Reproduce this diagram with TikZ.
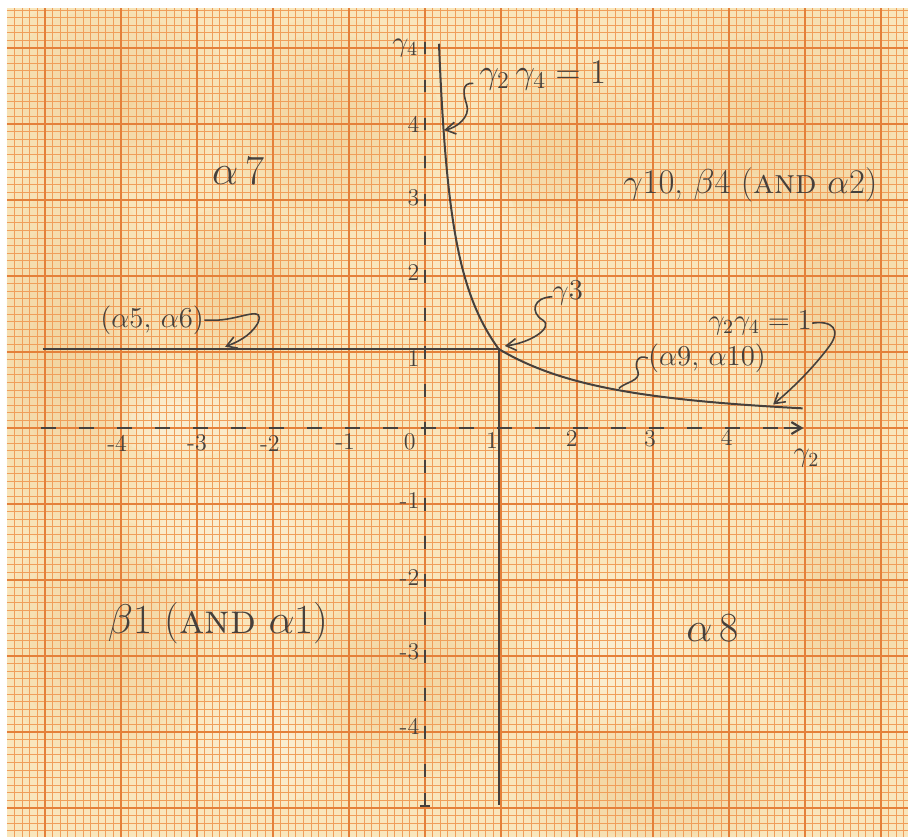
\documentclass[tikz,border=0pt]{standalone}
\usetikzlibrary{arrows.meta}
\definecolor{paper}{RGB}{249,230,188}
\definecolor{stain}{RGB}{234,192,122}
\definecolor{pale}{RGB}{254,247,230}
\definecolor{gridminor}{RGB}{240,158,90}
\definecolor{gridmajor}{RGB}{228,128,58}
\definecolor{ink}{RGB}{70,64,60}
\begin{document}
\begin{tikzpicture}[x=38pt,y=38pt,
  lbl/.style={text=ink, inner sep=0pt},
  ticklbl/.style={text=ink, inner sep=0pt, font=\large},
  axisdash/.style={draw=ink, line width=1.1pt},
  inkline/.style={draw=ink, line width=1pt},
  leader/.style={draw=ink, line width=0.8pt},
  barb/.style={-{Straight Barb[length=5pt,width=6pt]}}]
\useasboundingbox (-5.592,-5.382) rectangle (6.355,5.632);
\fill[white] (-5.592,-5.382) rectangle (6.355,5.632);
\fill[paper] (-5.5,-5.382) rectangle (6.355,5.526);
% stains and pale patches on the paper
\begin{scope}
\clip (-5.5,-5.382) rectangle (6.355,5.526);
\foreach \cx/\cy/\rx/\ry in {-4.2/4.4/1.6/1.3, -4.7/1.0/1.2/2.6, -4.2/-2.8/1.4/1.6,
  -1.3/4.0/1.5/1.4, 4.6/4.0/2.2/1.7, 5.4/1.6/1.3/1.8, -0.3/-3.3/1.6/1.3,
  5.5/-2.3/1.1/1.7, -2.5/1.8/1.3/1.1, 3.0/-4.7/1.8/1.0, 1.8/3.7/1.2/1.1}{
  \foreach \s in {1,0.85,0.7,0.55,0.4,0.25}{
    \fill[stain, opacity=0.07] (\cx,\cy) ellipse ({\s*\rx} and {\s*\ry});
  }
}
\foreach \cx/\cy/\rx/\ry in {1.2/-0.9/1.0/0.8, 2.4/-2.9/1.1/1.1, -2.6/-1.4/1.2/0.7,
  -2.2/-4.2/1.0/0.8, -3.2/0.1/0.9/0.5, 0.6/2.6/0.6/0.9}{
  \foreach \s in {1,0.75,0.5}{
    \fill[pale, opacity=0.2] (\cx,\cy) ellipse ({\s*\rx} and {\s*\ry});
  }
}
\end{scope}
\draw[gridminor, line width=0.45pt, step=0.1] (-5.5,-5.382) grid (6.355,5.526);
\draw[gridmajor, line width=0.9pt, step=1] (-5.5,-5.382) grid (6.355,5.526);

% dashed axes
\foreach \k in {-10,...,9}{
  \draw[axisdash] ({\k/2+0.05-0.1},0) -- ({\k/2+0.05+0.1},0);
}
\draw[axisdash, barb] (4.72,0) -- (4.98,0);
\foreach \k in {-9,...,10}{
  \draw[axisdash] (0,{\k/2-0.085}) -- (0,{\k/2+0.085});
}
\draw[axisdash] (0,-4.8) -- (0,-4.97);
\draw[axisdash] (-0.06,-4.97) -- (0.06,-4.97);

% axis labels
\node[lbl, font=\Large] (g4) at (-0.26,5.0) {$\gamma_4$};
\node[lbl, font=\Large] (g2) at (5.02,-0.4) {$\gamma_2$};

% tick labels
\foreach \t/\px/\py in {-4/-4.05/-0.2, -3/-3.0/-0.2, -2/-2.04/-0.2, -1/-1.05/-0.18,
  0/-0.2/-0.18, 1/0.88/-0.16, 2/1.93/-0.14, 3/2.96/-0.14, 4/3.97/-0.12}{
  \node[ticklbl] (xt\t) at (\px,\py) {\t};
}
\foreach \t/\py in {4/3.99, 3/3.03, 2/2.05, 1/0.91, -1/-0.95, -2/-1.97, -3/-2.95, -4/-3.93}{
  \node[ticklbl, anchor=east] (yt\t) at (-0.07,\py) {\t};
}

% boundary lines
\coordinate (lineL) at (-5.03,1.04);
\coordinate (corner) at (0.97,1.04);
\coordinate (lineB) at (0.97,-4.96);
\draw[inkline] (lineL) -- (corner) -- (lineB);

% hyperbola gamma2 gamma4 = 1 (as drawn by hand)
\draw[inkline] plot[domain=-1.693:-0.0305, samples=90]
    ({exp(\x)},{(0.93+0.5*(exp(\x)-0.184)*(1.17-exp(\x)))/exp(\x)})
  -- plot[domain=0.97:4.97, samples=90]
    (\x,{(1.0086+0.28*(1-exp(-(\x-0.97)/0.6)))/\x});

% region labels
\node[lbl, font=\huge] (a7) at (-2.46,3.39) {$\alpha$\,7};
\node[lbl, font=\LARGE] (g10) at (4.28,3.2) {$\gamma$10, $\beta$4 (\textsc{and} $\alpha$2)};
\node[lbl, font=\huge] (b1) at (-2.72,-2.57) {$\beta$1 (\textsc{and} $\alpha$1)};
\node[lbl, font=\huge] (a8) at (3.78,-2.63) {$\alpha$\,8};

% curve labels
\node[lbl, font=\LARGE] (eqtop) at (1.55,4.64) {$\gamma_2\,\gamma_4 = 1$};
\node[lbl, font=\Large] (a56) at (-3.59,1.42) {($\alpha$5, $\alpha$6)};
\node[lbl, font=\Large] (g3) at (1.88,1.78) {$\gamma$3};
\node[lbl, font=\Large] (a910) at (3.71,0.92) {($\alpha$9, $\alpha$10)};
\node[lbl, font=\Large] (eqright) at (4.41,1.38) {$\gamma_2\gamma_4 = 1$};

% leader targets
\coordinate (t1) at (0.25,3.92);
\coordinate (t2) at (-2.63,1.07);
\coordinate (t3) at (1.05,1.08);
\coordinate (t4) at (2.55,0.52);
\coordinate (t5) at (4.58,0.31);

% leaders
\draw[leader, barb] ([xshift=-3pt,yshift=-4pt]eqtop.west) .. controls (0.48,4.55) and (0.5,4.4) .. (0.55,4.25)
  .. controls (0.6,4.1) and (0.42,3.95) .. (t1);
\draw[leader, barb] (a56.east) -- ++(0.18,0) .. controls (-2.4,1.44) and (-2.1,1.62) .. (-2.2,1.38)
  .. controls (-2.3,1.2) and (-2.5,1.12) .. (t2);
\draw[leader, barb] ([yshift=-2pt]g3.west) .. controls (1.42,1.72) and (1.38,1.52) .. (1.55,1.42)
  .. controls (1.7,1.32) and (1.38,1.12) .. (t3);
\draw[leader] (a910.west) .. controls (2.8,0.98) and (2.75,0.85) .. (2.8,0.75)
  .. controls (2.85,0.62) and (2.62,0.6) .. (t4);
\draw[leader, barb] (eqright.east) .. controls (5.35,1.42) and (5.5,1.3) .. (5.3,1.05)
  .. controls (5.05,0.72) and (4.75,0.45) .. (t5);
\end{tikzpicture}
\end{document}
